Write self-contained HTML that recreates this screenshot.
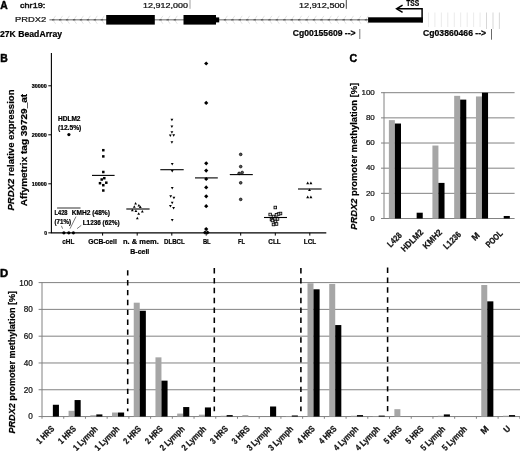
<!DOCTYPE html>
<html><head><meta charset="utf-8"><title>PRDX2 figure</title>
<style>
html,body{margin:0;padding:0;background:#fff;}
body{width:520px;height:451px;overflow:hidden;font-family:"Liberation Sans", sans-serif;}
svg{display:block;font-family:"Liberation Sans", sans-serif;}
text{stroke:#000;stroke-width:0.22px;paint-order:stroke;stroke-linejoin:round;}
</style></head><body>
<svg width="520" height="451" viewBox="0 0 520 451">
<defs><filter id="bl" x="0" y="0" width="520" height="451" filterUnits="userSpaceOnUse"><feGaussianBlur stdDeviation="0.4"/></filter></defs>
<rect width="520" height="451" fill="#fff"/>
<g filter="url(#bl)">
<rect width="520" height="451" fill="#fff"/>
<g id="A">
<text x="0.3" y="9" font-size="10.3" font-weight="bold" text-anchor="start" fill="#000" style="stroke-width:0.45px">A</text>
<text x="20" y="8.2" font-size="7.2" font-weight="normal" text-anchor="start" fill="#111" textLength="25.3" lengthAdjust="spacingAndGlyphs" style="stroke-width:0.4px">chr19:</text>
<text x="143.1" y="7.8" font-size="7" font-weight="normal" text-anchor="start" fill="#111" textLength="44.8" lengthAdjust="spacingAndGlyphs" >12,912,000</text>
<text x="299" y="7.8" font-size="7" font-weight="normal" text-anchor="start" fill="#111" textLength="45.6" lengthAdjust="spacingAndGlyphs" >12,912,500</text>
<line x1="190" y1="0" x2="190" y2="8.8" stroke="#888" stroke-width="0.8"/>
<line x1="346.3" y1="0" x2="346.3" y2="8.8" stroke="#333" stroke-width="0.9"/>
<text x="15" y="22.3" font-size="8" font-weight="normal" text-anchor="start" fill="#111" textLength="31.3" lengthAdjust="spacingAndGlyphs" >PRDX2</text>
<line x1="49.4" y1="19.8" x2="369" y2="19.8" stroke="#9a9a9a" stroke-width="1.5"/>
<path d="M55.6 15.8 L52.8 19.8 L55.6 23.8 M62.6 15.8 L59.8 19.8 L62.6 23.8 M69.5 15.8 L66.7 19.8 L69.5 23.8 M76.5 15.8 L73.7 19.8 L76.5 23.8 M83.4 15.8 L80.6 19.8 L83.4 23.8 M90.4 15.8 L87.6 19.8 L90.4 23.8 M97.3 15.8 L94.5 19.8 L97.3 23.8 M104.3 15.8 L101.5 19.8 L104.3 23.8 M162.9 15.8 L160.1 19.8 L162.9 23.8 M170.1 15.8 L167.3 19.8 L170.1 23.8 M177.3 15.8 L174.5 19.8 L177.3 23.8 M227.4 15.8 L224.6 19.8 L227.4 23.8 M234.8 15.8 L232.0 19.8 L234.8 23.8 M242.2 15.8 L239.4 19.8 L242.2 23.8 M249.7 15.8 L246.9 19.8 L249.7 23.8 M257.1 15.8 L254.3 19.8 L257.1 23.8 M264.5 15.8 L261.7 19.8 L264.5 23.8 M271.9 15.8 L269.1 19.8 L271.9 23.8 M279.3 15.8 L276.5 19.8 L279.3 23.8 M286.8 15.8 L284.0 19.8 L286.8 23.8 M294.2 15.8 L291.4 19.8 L294.2 23.8 M301.6 15.8 L298.8 19.8 L301.6 23.8 M309.0 15.8 L306.2 19.8 L309.0 23.8 M316.4 15.8 L313.6 19.8 L316.4 23.8 M323.9 15.8 L321.1 19.8 L323.9 23.8 M331.3 15.8 L328.5 19.8 L331.3 23.8 M338.7 15.8 L335.9 19.8 L338.7 23.8 M346.1 15.8 L343.3 19.8 L346.1 23.8 M353.5 15.8 L350.7 19.8 L353.5 23.8 M361.0 15.8 L358.2 19.8 L361.0 23.8 M368.4 15.8 L365.6 19.8 L368.4 23.8" fill="none" stroke="#dedede" stroke-width="0.9"/>
<path d="M52.0 19.8 h2.4 M59.0 19.8 h2.4 M65.9 19.8 h2.4 M72.9 19.8 h2.4 M79.8 19.8 h2.4 M86.8 19.8 h2.4 M93.7 19.8 h2.4 M100.7 19.8 h2.4 M159.3 19.8 h2.4 M166.5 19.8 h2.4 M173.7 19.8 h2.4 M223.8 19.8 h2.4 M231.2 19.8 h2.4 M238.6 19.8 h2.4 M246.1 19.8 h2.4 M253.5 19.8 h2.4 M260.9 19.8 h2.4 M268.3 19.8 h2.4 M275.7 19.8 h2.4 M283.2 19.8 h2.4 M290.6 19.8 h2.4 M298.0 19.8 h2.4 M305.4 19.8 h2.4 M312.8 19.8 h2.4 M320.3 19.8 h2.4 M327.7 19.8 h2.4 M335.1 19.8 h2.4 M342.5 19.8 h2.4 M349.9 19.8 h2.4 M357.4 19.8 h2.4 M364.8 19.8 h2.4" fill="none" stroke="#606060" stroke-width="1.5"/>
<rect x="106.2" y="15" width="48.6" height="9.6" fill="#000"/>
<rect x="183.5" y="15" width="32.5" height="9.6" fill="#000"/>
<rect x="216" y="17.4" width="3.2" height="5" fill="#000"/>
<rect x="368.1" y="17.3" width="54.6" height="5.3" fill="#000"/>
<path d="M422.1 22.5 L422.1 8.8 L397 8.8" fill="none" stroke="#000" stroke-width="1.5"/>
<path d="M402.6 5.2 L396.6 8.8 L402.6 12.4" fill="none" stroke="#000" stroke-width="1.5"/>
<text x="406.2" y="5.7" font-size="8.8" font-weight="bold" text-anchor="start" fill="#000" textLength="13" lengthAdjust="spacingAndGlyphs" >TSS</text>
<line x1="428.5" y1="12.5" x2="428.5" y2="27" stroke="#e9e9e9" stroke-width="0.9"/>
<line x1="434.9" y1="12.5" x2="434.9" y2="27" stroke="#e9e9e9" stroke-width="0.9"/>
<line x1="441.4" y1="12.5" x2="441.4" y2="27" stroke="#e9e9e9" stroke-width="0.9"/>
<line x1="447.8" y1="12.5" x2="447.8" y2="27" stroke="#e9e9e9" stroke-width="0.9"/>
<line x1="454.3" y1="12.5" x2="454.3" y2="27" stroke="#e9e9e9" stroke-width="0.9"/>
<line x1="460.7" y1="12.5" x2="460.7" y2="27" stroke="#e9e9e9" stroke-width="0.9"/>
<line x1="467.2" y1="12.5" x2="467.2" y2="27" stroke="#e9e9e9" stroke-width="0.9"/>
<line x1="473.6" y1="12.5" x2="473.6" y2="27" stroke="#e9e9e9" stroke-width="0.9"/>
<line x1="480.1" y1="12.5" x2="480.1" y2="27" stroke="#e9e9e9" stroke-width="0.9"/>
<line x1="486.5" y1="12.5" x2="486.5" y2="29" stroke="#d2d2d2" stroke-width="0.9"/>
<line x1="493.0" y1="12.5" x2="493.0" y2="29" stroke="#d2d2d2" stroke-width="0.9"/>
<line x1="499.4" y1="12.5" x2="499.4" y2="29" stroke="#d2d2d2" stroke-width="0.9"/>
<text x="0" y="36.5" font-size="8.3" font-weight="bold" text-anchor="start" fill="#000" textLength="62" lengthAdjust="spacingAndGlyphs" >27K BeadArray</text>
<text x="292.8" y="36.4" font-size="8.2" font-weight="bold" text-anchor="start" fill="#000" textLength="62.8" lengthAdjust="spacingAndGlyphs" >Cg00155609 --&gt;</text>
<text x="423.1" y="36.4" font-size="8.2" font-weight="bold" text-anchor="start" fill="#000" textLength="63" lengthAdjust="spacingAndGlyphs" >Cg03860466 --&gt;</text>
<line x1="359.8" y1="29" x2="359.8" y2="39" stroke="#777" stroke-width="1"/>
<line x1="491.5" y1="29" x2="491.5" y2="39.7" stroke="#444" stroke-width="0.8"/>
</g>
<g id="B">
<text x="0.2" y="61.6" font-size="10.4" font-weight="bold" text-anchor="start" fill="#000" style="stroke-width:0.45px">B</text>
<path d="M51.4 53 V232.85 H326.3" fill="none" stroke="#000" stroke-width="1.1"/>
<line x1="48.3" y1="85.8" x2="51.4" y2="85.8" stroke="#000" stroke-width="1"/>
<text x="46.8" y="87.6" font-size="5" font-weight="bold" text-anchor="end" fill="#000" textLength="15" lengthAdjust="spacingAndGlyphs" >30000</text>
<line x1="48.3" y1="134.8" x2="51.4" y2="134.8" stroke="#000" stroke-width="1"/>
<text x="46.8" y="136.60000000000002" font-size="5" font-weight="bold" text-anchor="end" fill="#000" textLength="15" lengthAdjust="spacingAndGlyphs" >20000</text>
<line x1="48.3" y1="183.8" x2="51.4" y2="183.8" stroke="#000" stroke-width="1"/>
<text x="46.8" y="185.60000000000002" font-size="5" font-weight="bold" text-anchor="end" fill="#000" textLength="15" lengthAdjust="spacingAndGlyphs" >10000</text>
<line x1="48.3" y1="232.85" x2="51.4" y2="232.85" stroke="#000" stroke-width="1"/>
<text x="47" y="234.65" font-size="5" font-weight="bold" text-anchor="end" fill="#000" >0</text>
<text x="68.3" y="244.2" font-size="7.7" font-weight="bold" text-anchor="middle" fill="#000" textLength="12" lengthAdjust="spacingAndGlyphs" >cHL</text>
<line x1="102.6" y1="232.85" x2="102.6" y2="235.6" stroke="#000" stroke-width="1"/>
<text x="102.6" y="244.2" font-size="7.7" font-weight="bold" text-anchor="middle" fill="#000" textLength="28.5" lengthAdjust="spacingAndGlyphs" >GCB-cell</text>
<line x1="137.2" y1="232.85" x2="137.2" y2="235.6" stroke="#000" stroke-width="1"/>
<text x="140.9" y="244.2" font-size="7.7" font-weight="bold" text-anchor="middle" fill="#000" textLength="35.8" lengthAdjust="spacingAndGlyphs" >n. &amp; mem.</text>
<line x1="171.8" y1="232.85" x2="171.8" y2="235.6" stroke="#000" stroke-width="1"/>
<text x="174.4" y="244.2" font-size="7.7" font-weight="bold" text-anchor="middle" fill="#000" textLength="20.8" lengthAdjust="spacingAndGlyphs" >DLBCL</text>
<line x1="206.2" y1="232.85" x2="206.2" y2="235.6" stroke="#000" stroke-width="1"/>
<text x="206.8" y="244.2" font-size="7.7" font-weight="bold" text-anchor="middle" fill="#000" textLength="7.8" lengthAdjust="spacingAndGlyphs" >BL</text>
<line x1="240.7" y1="232.85" x2="240.7" y2="235.6" stroke="#000" stroke-width="1"/>
<text x="241.5" y="244.2" font-size="7.7" font-weight="bold" text-anchor="middle" fill="#000" textLength="7" lengthAdjust="spacingAndGlyphs" >FL</text>
<line x1="275.3" y1="232.85" x2="275.3" y2="235.6" stroke="#000" stroke-width="1"/>
<text x="274.5" y="244.2" font-size="7.7" font-weight="bold" text-anchor="middle" fill="#000" textLength="12.5" lengthAdjust="spacingAndGlyphs" >CLL</text>
<line x1="309.8" y1="232.85" x2="309.8" y2="235.6" stroke="#000" stroke-width="1"/>
<text x="310" y="244.2" font-size="7.7" font-weight="bold" text-anchor="middle" fill="#000" textLength="12.5" lengthAdjust="spacingAndGlyphs" >LCL</text>
<text x="139.8" y="254.2" font-size="7.7" font-weight="bold" text-anchor="middle" fill="#000" textLength="19" lengthAdjust="spacingAndGlyphs" >B-cell</text>
<text transform="translate(13.7,150.0) rotate(-90)" text-anchor="middle" font-size="9" font-weight="bold" textLength="121" lengthAdjust="spacingAndGlyphs"><tspan font-style="italic">PRDX2</tspan> relative expression</text>
<text transform="translate(27.1,150.1) rotate(-90)" text-anchor="middle" font-size="9" font-weight="bold" textLength="112.5" lengthAdjust="spacingAndGlyphs">Affymetrix tag 39729_at</text>
<circle cx="68.9" cy="134.6" r="1.6" fill="#000"/>
<circle cx="63.9" cy="232.8" r="1.6" fill="#000"/>
<circle cx="68.8" cy="232.8" r="1.6" fill="#000"/>
<circle cx="73.4" cy="232.8" r="1.6" fill="#000"/>
<line x1="57.1" y1="208" x2="80.5" y2="208" stroke="#444" stroke-width="1.1"/>
<text x="58" y="121" font-size="6.6" font-weight="bold" text-anchor="start" fill="#000" textLength="22.5" lengthAdjust="spacingAndGlyphs" >HDLM2</text>
<text x="58" y="130.4" font-size="6.6" font-weight="bold" text-anchor="start" fill="#000" textLength="23.3" lengthAdjust="spacingAndGlyphs" >(12.5%)</text>
<text x="54.5" y="214.5" font-size="6.4" font-weight="bold" text-anchor="start" fill="#000" textLength="13" lengthAdjust="spacingAndGlyphs" >L428</text>
<text x="54.5" y="224.1" font-size="6.4" font-weight="bold" text-anchor="start" fill="#000" textLength="16.5" lengthAdjust="spacingAndGlyphs" >(71%)</text>
<text x="71.8" y="215" font-size="6.4" font-weight="bold" text-anchor="start" fill="#000" textLength="38.1" lengthAdjust="spacingAndGlyphs" >KMH2 (48%)</text>
<text x="82.7" y="225.4" font-size="6.4" font-weight="bold" text-anchor="start" fill="#000" textLength="37" lengthAdjust="spacingAndGlyphs" >L1236 (62%)</text>
<path d="M61.4 225.8 L62.6 228.7 M76 216.6 L70 228.7 M81.3 225.3 L77 228.7" stroke="#222" stroke-width="0.6" fill="none"/>
<rect x="102.05" y="148.95" width="2.5" height="2.5" fill="#000"/>
<rect x="102.05" y="155.15" width="2.5" height="2.5" fill="#000"/>
<rect x="102.05" y="170.75" width="2.5" height="2.5" fill="#000"/>
<rect x="103.05" y="176.95" width="2.5" height="2.5" fill="#000"/>
<rect x="100.45" y="178.25" width="2.5" height="2.5" fill="#000"/>
<rect x="98.75" y="181.95" width="2.5" height="2.5" fill="#000"/>
<rect x="105.05" y="181.45" width="2.5" height="2.5" fill="#000"/>
<rect x="102.05" y="183.95" width="2.5" height="2.5" fill="#000"/>
<rect x="102.05" y="189.25" width="2.5" height="2.5" fill="#000"/>
<line x1="92" y1="175.4" x2="114.6" y2="175.4" stroke="#000" stroke-width="1.1"/>
<path d="M134.20 204.42 L137.00 204.42 L135.60 201.90 Z" fill="#000"/>
<path d="M137.50 206.42 L140.30 206.42 L138.90 203.90 Z" fill="#000"/>
<path d="M132.90 207.72 L135.70 207.72 L134.30 205.20 Z" fill="#000"/>
<path d="M138.90 208.12 L141.70 208.12 L140.30 205.60 Z" fill="#000"/>
<path d="M130.90 211.32 L133.70 211.32 L132.30 208.80 Z" fill="#000"/>
<path d="M134.50 212.12 L137.30 212.12 L135.90 209.60 Z" fill="#000"/>
<path d="M140.90 212.42 L143.70 212.42 L142.30 209.90 Z" fill="#000"/>
<path d="M137.30 214.82 L140.10 214.82 L138.70 212.30 Z" fill="#000"/>
<path d="M135.90 219.32 L138.70 219.32 L137.30 216.80 Z" fill="#000"/>
<line x1="126.3" y1="209" x2="149.6" y2="209" stroke="#000" stroke-width="1.1"/>
<path d="M170.50 118.78 L173.30 118.78 L171.90 121.30 Z" fill="#000"/>
<path d="M170.50 125.48 L173.30 125.48 L171.90 128.00 Z" fill="#000"/>
<path d="M170.50 131.18 L173.30 131.18 L171.90 133.70 Z" fill="#000"/>
<path d="M168.90 134.48 L171.70 134.48 L170.30 137.00 Z" fill="#000"/>
<path d="M172.30 134.28 L175.10 134.28 L173.70 136.80 Z" fill="#000"/>
<path d="M170.50 141.18 L173.30 141.18 L171.90 143.70 Z" fill="#000"/>
<path d="M170.80 163.08 L173.60 163.08 L172.20 165.60 Z" fill="#000"/>
<path d="M170.80 169.88 L173.60 169.88 L172.20 172.40 Z" fill="#000"/>
<path d="M170.80 187.08 L173.60 187.08 L172.20 189.60 Z" fill="#000"/>
<path d="M169.30 195.18 L172.10 195.18 L170.70 197.70 Z" fill="#000"/>
<path d="M172.50 196.78 L175.30 196.78 L173.90 199.30 Z" fill="#000"/>
<path d="M170.80 201.78 L173.60 201.78 L172.20 204.30 Z" fill="#000"/>
<path d="M169.00 204.88 L171.80 204.88 L170.40 207.40 Z" fill="#000"/>
<path d="M172.20 207.08 L175.00 207.08 L173.60 209.60 Z" fill="#000"/>
<path d="M170.80 218.88 L173.60 218.88 L172.20 221.40 Z" fill="#000"/>
<line x1="160.3" y1="169.7" x2="183.7" y2="169.7" stroke="#000" stroke-width="1.1"/>
<path d="M204.10 63.5 L206.2 61.40 L208.30 63.5 L206.2 65.60 Z" fill="#000"/>
<path d="M204.10 102.9 L206.2 100.80 L208.30 102.9 L206.2 105.00 Z" fill="#000"/>
<path d="M204.10 163.3 L206.2 161.20 L208.30 163.3 L206.2 165.40 Z" fill="#000"/>
<path d="M204.10 170.6 L206.2 168.50 L208.30 170.6 L206.2 172.70 Z" fill="#000"/>
<path d="M204.10 179 L206.2 176.90 L208.30 179 L206.2 181.10 Z" fill="#000"/>
<path d="M204.10 187.4 L206.2 185.30 L208.30 187.4 L206.2 189.50 Z" fill="#000"/>
<path d="M204.10 196.3 L206.2 194.20 L208.30 196.3 L206.2 198.40 Z" fill="#000"/>
<path d="M204.10 206.2 L206.2 204.10 L208.30 206.2 L206.2 208.30 Z" fill="#000"/>
<path d="M204.10 229.1 L206.2 227.00 L208.30 229.1 L206.2 231.20 Z" fill="#000"/>
<path d="M202.90 232.5 L205.0 230.40 L207.10 232.5 L205.0 234.60 Z" fill="#000"/>
<path d="M205.50 232.5 L207.6 230.40 L209.70 232.5 L207.6 234.60 Z" fill="#000"/>
<line x1="195" y1="177.9" x2="217.8" y2="177.9" stroke="#000" stroke-width="1.1"/>
<circle cx="240.7" cy="154.4" r="1.35" fill="#555" stroke="#000" stroke-width="0.7"/>
<circle cx="240.7" cy="166.6" r="1.35" fill="#555" stroke="#000" stroke-width="0.7"/>
<circle cx="242.2" cy="172.5" r="1.35" fill="#555" stroke="#000" stroke-width="0.7"/>
<circle cx="239.1" cy="173.4" r="1.35" fill="#555" stroke="#000" stroke-width="0.7"/>
<circle cx="240.7" cy="182.8" r="1.35" fill="#555" stroke="#000" stroke-width="0.7"/>
<circle cx="240.7" cy="199.4" r="1.35" fill="#555" stroke="#000" stroke-width="0.7"/>
<line x1="229.8" y1="174.6" x2="252.8" y2="174.6" stroke="#000" stroke-width="1.1"/>
<rect x="274.00" y="206.20" width="2.6" height="2.6" fill="#ddd" stroke="#000" stroke-width="0.8"/>
<rect x="268.90" y="213.20" width="2.6" height="2.6" fill="#ddd" stroke="#000" stroke-width="0.8"/>
<rect x="279.20" y="212.20" width="2.6" height="2.6" fill="#ddd" stroke="#000" stroke-width="0.8"/>
<rect x="277.20" y="212.70" width="2.6" height="2.6" fill="#ddd" stroke="#000" stroke-width="0.8"/>
<rect x="275.20" y="213.50" width="2.6" height="2.6" fill="#ddd" stroke="#000" stroke-width="0.8"/>
<rect x="272.20" y="215.20" width="2.6" height="2.6" fill="#ddd" stroke="#000" stroke-width="0.8"/>
<rect x="270.20" y="218.20" width="2.6" height="2.6" fill="#ddd" stroke="#000" stroke-width="0.8"/>
<rect x="273.70" y="217.70" width="2.6" height="2.6" fill="#ddd" stroke="#000" stroke-width="0.8"/>
<rect x="276.20" y="217.70" width="2.6" height="2.6" fill="#ddd" stroke="#000" stroke-width="0.8"/>
<rect x="271.20" y="219.20" width="2.6" height="2.6" fill="#ddd" stroke="#000" stroke-width="0.8"/>
<rect x="274.20" y="220.20" width="2.6" height="2.6" fill="#ddd" stroke="#000" stroke-width="0.8"/>
<rect x="272.20" y="223.20" width="2.6" height="2.6" fill="#ddd" stroke="#000" stroke-width="0.8"/>
<rect x="275.20" y="222.70" width="2.6" height="2.6" fill="#ddd" stroke="#000" stroke-width="0.8"/>
<line x1="264" y1="217.5" x2="287" y2="217.5" stroke="#000" stroke-width="1.1"/>
<path d="M306.20 184.20 L309.20 184.20 L307.70 181.50 Z" fill="#000"/>
<path d="M309.40 184.20 L312.40 184.20 L310.90 181.50 Z" fill="#000"/>
<path d="M308.00 191.10 L311.00 191.10 L309.50 188.40 Z" fill="#000"/>
<path d="M306.20 198.20 L309.20 198.20 L307.70 195.50 Z" fill="#000"/>
<path d="M309.40 198.20 L312.40 198.20 L310.90 195.50 Z" fill="#000"/>
<line x1="298" y1="189" x2="321.6" y2="189" stroke="#000" stroke-width="1.1"/>
</g>
<g id="C">
<text x="349.6" y="62" font-size="10.6" font-weight="bold" text-anchor="start" fill="#000" style="stroke-width:0.45px">C</text>
<line x1="381" y1="218.50" x2="514.6" y2="218.50" stroke="#828282" stroke-width="1"/>
<text x="374.8" y="220.8" font-size="8" font-weight="normal" text-anchor="end" fill="#111" >0</text>
<line x1="381" y1="193.34" x2="514.6" y2="193.34" stroke="#828282" stroke-width="1"/>
<text x="374.8" y="195.64" font-size="8" font-weight="normal" text-anchor="end" fill="#111" >20</text>
<line x1="381" y1="168.18" x2="514.6" y2="168.18" stroke="#828282" stroke-width="1"/>
<text x="374.8" y="170.48" font-size="8" font-weight="normal" text-anchor="end" fill="#111" >40</text>
<line x1="381" y1="143.02" x2="514.6" y2="143.02" stroke="#828282" stroke-width="1"/>
<text x="374.8" y="145.32" font-size="8" font-weight="normal" text-anchor="end" fill="#111" >60</text>
<line x1="381" y1="117.86" x2="514.6" y2="117.86" stroke="#828282" stroke-width="1"/>
<text x="374.8" y="120.16" font-size="8" font-weight="normal" text-anchor="end" fill="#111" >80</text>
<line x1="381" y1="92.70" x2="514.6" y2="92.70" stroke="#828282" stroke-width="1"/>
<text x="374.8" y="95.0" font-size="8" font-weight="normal" text-anchor="end" fill="#111" >100</text>
<line x1="384.0" y1="92.20" x2="384.0" y2="219.0" stroke="#828282" stroke-width="1"/>
<rect x="388.88" y="120.12" width="6" height="98.38" fill="#a6a6a6"/>
<rect x="394.88" y="123.52" width="6.1" height="94.98" fill="#000"/>
<text transform="translate(402.40,236.00) rotate(-45)" text-anchor="end" font-size="8.8" font-weight="bold" fill="#111" textLength="16.5" lengthAdjust="spacingAndGlyphs">L428</text>
<rect x="416.65" y="212.71" width="6.1" height="5.79" fill="#000"/>
<text transform="translate(423.90,232.90) rotate(-45)" text-anchor="end" font-size="8.8" font-weight="bold" fill="#111" textLength="27.4" lengthAdjust="spacingAndGlyphs">HDLM2</text>
<rect x="432.42" y="145.54" width="6" height="72.96" fill="#a6a6a6"/>
<rect x="438.42" y="182.90" width="6.1" height="35.60" fill="#000"/>
<text transform="translate(442.80,232.90) rotate(-45)" text-anchor="end" font-size="8.8" font-weight="bold" fill="#111" textLength="23.4" lengthAdjust="spacingAndGlyphs">KMH2</text>
<rect x="454.18" y="95.84" width="6" height="122.66" fill="#a6a6a6"/>
<rect x="460.18" y="99.62" width="6.1" height="118.88" fill="#000"/>
<text transform="translate(461.70,235.00) rotate(-45)" text-anchor="end" font-size="8.8" font-weight="bold" fill="#111" textLength="21" lengthAdjust="spacingAndGlyphs">L1236</text>
<rect x="475.95" y="96.47" width="6" height="122.03" fill="#a6a6a6"/>
<rect x="481.95" y="92.70" width="6.1" height="125.80" fill="#000"/>
<text transform="translate(480.30,236.00) rotate(-45)" text-anchor="end" font-size="8.8" font-weight="bold" fill="#111" textLength="7.5" lengthAdjust="spacingAndGlyphs">M</text>
<rect x="503.72" y="215.98" width="6.1" height="2.52" fill="#000"/>
<text transform="translate(503.20,234.10) rotate(-45)" text-anchor="end" font-size="8.8" font-weight="bold" fill="#111" textLength="19.8" lengthAdjust="spacingAndGlyphs">POOL</text>
<text transform="translate(357.0,156.3) rotate(-90)" text-anchor="middle" font-size="9.7" font-weight="bold" textLength="147" lengthAdjust="spacingAndGlyphs"><tspan font-style="italic">PRDX2</tspan> promoter methylation [%]</text>
</g>
<g id="D">
<text x="0" y="276.7" font-size="11.3" font-weight="bold" text-anchor="start" fill="#000" style="stroke-width:0.45px">D</text>
<line x1="38.6" y1="416.55" x2="520" y2="416.55" stroke="#828282" stroke-width="1"/>
<text x="32.8" y="419.45" font-size="8.2" font-weight="normal" text-anchor="end" fill="#111" >0</text>
<line x1="38.6" y1="389.76" x2="520" y2="389.76" stroke="#828282" stroke-width="1"/>
<text x="32.8" y="392.66" font-size="8.2" font-weight="normal" text-anchor="end" fill="#111" >20</text>
<line x1="38.6" y1="362.97" x2="520" y2="362.97" stroke="#828282" stroke-width="1"/>
<text x="32.8" y="365.87" font-size="8.2" font-weight="normal" text-anchor="end" fill="#111" >40</text>
<line x1="38.6" y1="336.18" x2="520" y2="336.18" stroke="#828282" stroke-width="1"/>
<text x="32.8" y="339.08" font-size="8.2" font-weight="normal" text-anchor="end" fill="#111" >60</text>
<line x1="38.6" y1="309.39" x2="520" y2="309.39" stroke="#828282" stroke-width="1"/>
<text x="32.8" y="312.29" font-size="8.2" font-weight="normal" text-anchor="end" fill="#111" >80</text>
<line x1="38.6" y1="282.60" x2="520" y2="282.60" stroke="#828282" stroke-width="1"/>
<text x="32.8" y="285.5" font-size="8.2" font-weight="normal" text-anchor="end" fill="#111" >100</text>
<line x1="42.0" y1="282.10" x2="42.0" y2="418.75" stroke="#828282" stroke-width="1"/>
<rect x="52.86" y="404.76" width="6.1" height="11.79" fill="#000"/>
<text transform="translate(54.86,429.35) rotate(-45)" text-anchor="end" font-size="8.8" font-weight="bold" fill="#111" textLength="21.3" lengthAdjust="spacingAndGlyphs">1 HRS</text>
<rect x="68.58" y="410.79" width="6" height="5.76" fill="#a6a6a6"/>
<rect x="74.58" y="400.07" width="6.1" height="16.48" fill="#000"/>
<text transform="translate(76.58,429.35) rotate(-45)" text-anchor="end" font-size="8.8" font-weight="bold" fill="#111" textLength="21.3" lengthAdjust="spacingAndGlyphs">1 HRS</text>
<rect x="90.30" y="415.21" width="6" height="1.34" fill="#a6a6a6"/>
<rect x="96.30" y="414.41" width="6.1" height="2.14" fill="#000"/>
<text transform="translate(98.30,429.35) rotate(-45)" text-anchor="end" font-size="8.8" font-weight="bold" fill="#111" textLength="31" lengthAdjust="spacingAndGlyphs">1 Lymph</text>
<rect x="112.02" y="412.53" width="6" height="4.02" fill="#a6a6a6"/>
<rect x="118.02" y="412.53" width="6.1" height="4.02" fill="#000"/>
<text transform="translate(120.02,429.35) rotate(-45)" text-anchor="end" font-size="8.8" font-weight="bold" fill="#111" textLength="31" lengthAdjust="spacingAndGlyphs">1 Lymph</text>
<rect x="133.74" y="302.69" width="6" height="113.86" fill="#a6a6a6"/>
<rect x="139.74" y="310.73" width="6.1" height="105.82" fill="#000"/>
<text transform="translate(141.74,429.35) rotate(-45)" text-anchor="end" font-size="8.8" font-weight="bold" fill="#111" textLength="21.3" lengthAdjust="spacingAndGlyphs">2 HRS</text>
<rect x="155.46" y="357.34" width="6" height="59.21" fill="#a6a6a6"/>
<rect x="161.46" y="380.65" width="6.1" height="35.90" fill="#000"/>
<text transform="translate(163.46,429.35) rotate(-45)" text-anchor="end" font-size="8.8" font-weight="bold" fill="#111" textLength="21.3" lengthAdjust="spacingAndGlyphs">2 HRS</text>
<rect x="177.18" y="413.60" width="6" height="2.95" fill="#a6a6a6"/>
<rect x="183.18" y="407.04" width="6.1" height="9.51" fill="#000"/>
<text transform="translate(185.18,429.35) rotate(-45)" text-anchor="end" font-size="8.8" font-weight="bold" fill="#111" textLength="31" lengthAdjust="spacingAndGlyphs">2 Lymph</text>
<rect x="198.90" y="414.67" width="6" height="1.88" fill="#a6a6a6"/>
<rect x="204.90" y="407.44" width="6.1" height="9.11" fill="#000"/>
<text transform="translate(206.90,429.35) rotate(-45)" text-anchor="end" font-size="8.8" font-weight="bold" fill="#111" textLength="31" lengthAdjust="spacingAndGlyphs">2 Lymph</text>
<rect x="220.62" y="415.75" width="6" height="0.80" fill="#a6a6a6"/>
<rect x="226.62" y="415.08" width="6.1" height="1.47" fill="#000"/>
<text transform="translate(228.62,429.35) rotate(-45)" text-anchor="end" font-size="8.8" font-weight="bold" fill="#111" textLength="21.3" lengthAdjust="spacingAndGlyphs">3 HRS</text>
<rect x="242.34" y="415.08" width="6" height="1.47" fill="#a6a6a6"/>
<text transform="translate(250.34,429.35) rotate(-45)" text-anchor="end" font-size="8.8" font-weight="bold" fill="#111" textLength="21.3" lengthAdjust="spacingAndGlyphs">3 HRS</text>
<rect x="270.06" y="406.50" width="6.1" height="10.05" fill="#000"/>
<text transform="translate(272.06,429.35) rotate(-45)" text-anchor="end" font-size="8.8" font-weight="bold" fill="#111" textLength="31" lengthAdjust="spacingAndGlyphs">3 Lymph</text>
<rect x="285.78" y="416.01" width="6" height="0.54" fill="#a6a6a6"/>
<rect x="291.78" y="415.48" width="6.1" height="1.07" fill="#000"/>
<text transform="translate(293.78,429.35) rotate(-45)" text-anchor="end" font-size="8.8" font-weight="bold" fill="#111" textLength="31" lengthAdjust="spacingAndGlyphs">3 Lymph</text>
<rect x="307.50" y="283.27" width="6" height="133.28" fill="#a6a6a6"/>
<rect x="313.50" y="289.30" width="6.1" height="127.25" fill="#000"/>
<text transform="translate(315.50,429.35) rotate(-45)" text-anchor="end" font-size="8.8" font-weight="bold" fill="#111" textLength="21.3" lengthAdjust="spacingAndGlyphs">4 HRS</text>
<rect x="329.22" y="283.94" width="6" height="132.61" fill="#a6a6a6"/>
<rect x="335.22" y="325.06" width="6.1" height="91.49" fill="#000"/>
<text transform="translate(337.22,429.35) rotate(-45)" text-anchor="end" font-size="8.8" font-weight="bold" fill="#111" textLength="21.3" lengthAdjust="spacingAndGlyphs">4 HRS</text>
<rect x="350.94" y="415.75" width="6" height="0.80" fill="#a6a6a6"/>
<rect x="356.94" y="415.08" width="6.1" height="1.47" fill="#000"/>
<text transform="translate(358.94,429.35) rotate(-45)" text-anchor="end" font-size="8.8" font-weight="bold" fill="#111" textLength="31" lengthAdjust="spacingAndGlyphs">4 Lymph</text>
<rect x="372.66" y="416.01" width="6" height="0.54" fill="#a6a6a6"/>
<rect x="378.66" y="415.61" width="6.1" height="0.94" fill="#000"/>
<text transform="translate(380.66,429.35) rotate(-45)" text-anchor="end" font-size="8.8" font-weight="bold" fill="#111" textLength="31" lengthAdjust="spacingAndGlyphs">4 Lymph</text>
<rect x="394.38" y="409.18" width="6" height="7.37" fill="#a6a6a6"/>
<text transform="translate(402.38,429.35) rotate(-45)" text-anchor="end" font-size="8.8" font-weight="bold" fill="#111" textLength="21.3" lengthAdjust="spacingAndGlyphs">5 HRS</text>
<text transform="translate(424.10,429.35) rotate(-45)" text-anchor="end" font-size="8.8" font-weight="bold" fill="#111" textLength="21.3" lengthAdjust="spacingAndGlyphs">5 HRS</text>
<rect x="437.82" y="415.75" width="6" height="0.80" fill="#a6a6a6"/>
<rect x="443.82" y="414.41" width="6.1" height="2.14" fill="#000"/>
<text transform="translate(445.82,429.35) rotate(-45)" text-anchor="end" font-size="8.8" font-weight="bold" fill="#111" textLength="31" lengthAdjust="spacingAndGlyphs">5 Lymph</text>
<text transform="translate(467.54,429.35) rotate(-45)" text-anchor="end" font-size="8.8" font-weight="bold" fill="#111" textLength="31" lengthAdjust="spacingAndGlyphs">5 Lymph</text>
<rect x="481.26" y="285.01" width="6" height="131.54" fill="#a6a6a6"/>
<rect x="487.26" y="301.35" width="6.1" height="115.20" fill="#000"/>
<text transform="translate(489.26,429.35) rotate(-45)" text-anchor="end" font-size="8.8" font-weight="bold" fill="#111" textLength="7.5" lengthAdjust="spacingAndGlyphs">M</text>
<rect x="502.98" y="415.75" width="6" height="0.80" fill="#a6a6a6"/>
<rect x="508.98" y="415.08" width="6.1" height="1.47" fill="#000"/>
<text transform="translate(510.98,429.35) rotate(-45)" text-anchor="end" font-size="8.8" font-weight="bold" fill="#111" textLength="5.7" lengthAdjust="spacingAndGlyphs">U</text>
<path d="M63.72 416.55 v2.2 M85.44 416.55 v2.2 M107.16 416.55 v2.2 M128.88 416.55 v2.2 M150.60 416.55 v2.2 M172.32 416.55 v2.2 M194.04 416.55 v2.2 M215.76 416.55 v2.2 M237.48 416.55 v2.2 M259.20 416.55 v2.2 M280.92 416.55 v2.2 M302.64 416.55 v2.2 M324.36 416.55 v2.2 M346.08 416.55 v2.2 M367.80 416.55 v2.2 M389.52 416.55 v2.2 M411.24 416.55 v2.2 M432.96 416.55 v2.2 M454.68 416.55 v2.2 M476.40 416.55 v2.2 M498.12 416.55 v2.2 M519.84 416.55 v2.2" stroke="#828282" stroke-width="1" fill="none"/>
<line x1="127.7" y1="270.15" x2="127.7" y2="411.3" stroke="#000" stroke-width="1.55" stroke-dasharray="5.4 4.48"/>
<line x1="214.3" y1="268.1" x2="214.3" y2="411.3" stroke="#000" stroke-width="1.55" stroke-dasharray="5.4 4.48"/>
<line x1="300.9" y1="268.1" x2="300.9" y2="411.3" stroke="#000" stroke-width="1.55" stroke-dasharray="5.4 4.48"/>
<line x1="387.6" y1="267.6" x2="387.6" y2="411.3" stroke="#000" stroke-width="1.55" stroke-dasharray="5.4 4.48"/>
<text transform="translate(15.3,362.2) rotate(-90)" text-anchor="middle" font-size="9.6" font-weight="bold" textLength="142.6" lengthAdjust="spacingAndGlyphs"><tspan font-style="italic">PRDX2</tspan> promoter methylation [%]</text>
</g>
</g>
</svg>
</body></html>
